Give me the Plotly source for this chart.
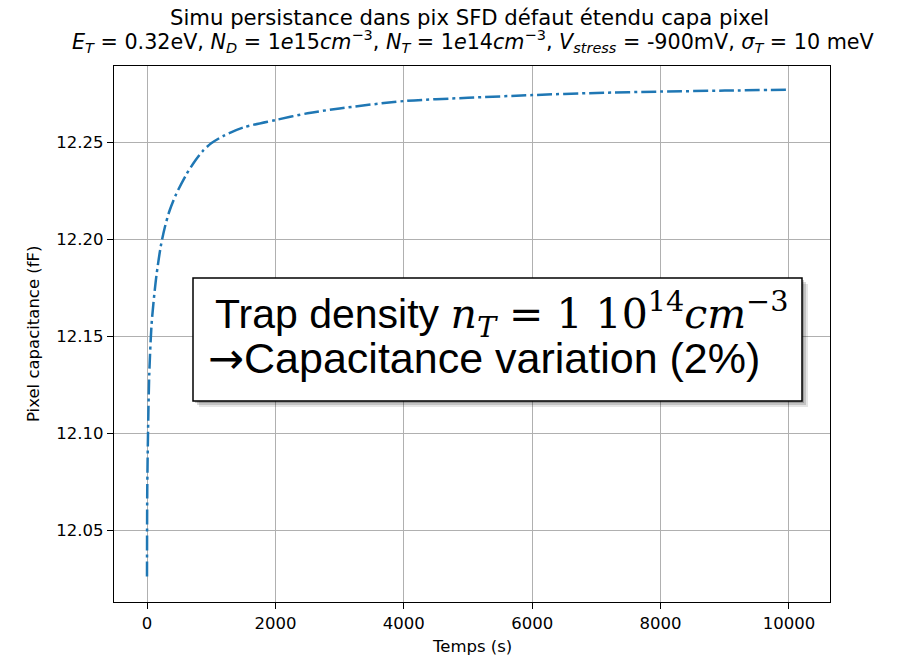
import plotly.graph_objects as go

# ---- data ----
temps_s = [0, 4, 16, 35, 69, 100, 146, 215, 280, 354, 450, 614, 750, 868, 1000, 1200,
           1500, 2000, 2500, 3000, 4000, 5000, 6000, 7000, 8000, 9000, 10000]
capa_fF = [12.026, 12.07, 12.10, 12.13, 12.155, 12.167, 12.181, 12.1965, 12.2065, 12.2150,
           12.2230, 12.2335, 12.2405, 12.2455, 12.2495, 12.2535, 12.2577, 12.2615, 12.265,
           12.2675, 12.2713, 12.273, 12.2744, 12.2755, 12.2762, 12.2767, 12.2772]

x_ticks = [0, 2000, 4000, 6000, 8000, 10000]
y_ticks = [12.05, 12.10, 12.15, 12.20, 12.25]

title_line1 = "Simu persistance dans pix SFD défaut étendu capa pixel"
title_line2 = ("<i>E</i><sub><i>T</i></sub> = 0.32eV, <i>N</i><sub><i>D</i></sub> = 1<i>e</i>15<i>cm</i><sup>−3</sup>, "
               "<i>N</i><sub><i>T</i></sub> = 1<i>e</i>14<i>cm</i><sup>−3</sup>, "
               "<i>V</i><sub><i>stress</i></sub> = -900mV, <i>σ</i><sub><i>T</i></sub> = 10 meV")
x_label = "Temps (s)"
y_label = "Pixel capacitance (fF)"
box_line1 = ("Trap density <span style=\"font-family:'DejaVu Serif'\"><i>n</i><sub><i>T</i></sub>"
             " = 1 10<sup>14</sup><i>cm</i><sup>−3</sup></span>")
box_line2 = "<span style=\"font-family:'DejaVu Sans'\">→</span>Capacitance variation (2%)"

# ---- layout geometry (pixels) ----
W, H = 906, 655
L, R, T, B = 114, 830, 66, 602


def px(x):
    return (x - L) / (R - L)


def py(y):
    return (B - y) / (B - T)


FONT = "DejaVu Sans"
TICK_SIZE = 16.5

fig = go.Figure()
fig.add_trace(go.Scatter(
    x=temps_s, y=capa_fF, mode="lines",
    line=dict(color="#1f77b4", width=2.5, dash="15px,4px,3px,4px", shape="spline", smoothing=0.8),
    showlegend=False, hoverinfo="skip",
))

axis_common = dict(
    showline=True, linecolor="black", linewidth=1.3, mirror=True,
    ticks="outside", ticklen=6, tickwidth=1.3, tickcolor="black",
    showgrid=True, gridcolor="#b0b0b0", gridwidth=1.3,
    zeroline=False,
    tickfont=dict(family=FONT, size=TICK_SIZE, color="black"),
)

fig.update_xaxes(range=[-514, 10639], tickvals=x_ticks, tickformat="d", **axis_common)
fig.update_yaxes(range=[12.0129, 12.2894], tickvals=y_ticks, tickformat=".2f", **axis_common)

annotations = [
    dict(text=title_line1, x=px(469), y=py(17.5), xref="paper", yref="paper",
         xanchor="center", yanchor="middle", showarrow=False,
         font=dict(family=FONT, size=21.2, color="black")),
    dict(text=title_line2, x=px(472.5), y=py(41), xref="paper", yref="paper",
         xanchor="center", yanchor="middle", showarrow=False,
         font=dict(family=FONT, size=20.7, color="black")),
    dict(text=x_label, x=px(472), y=py(646), xref="paper", yref="paper",
         xanchor="center", yanchor="middle", showarrow=False,
         font=dict(family=FONT, size=TICK_SIZE, color="black")),
    dict(text=y_label, x=px(33), y=py(334), xref="paper", yref="paper",
         xanchor="center", yanchor="middle", showarrow=False, textangle=-90,
         font=dict(family=FONT, size=TICK_SIZE, color="black")),
    dict(text=box_line1, x=px(213), y=py(314), xref="paper", yref="paper",
         xanchor="left", yanchor="middle", showarrow=False,
         font=dict(family="Liberation Sans", size=41, color="black")),
    dict(text=box_line2, x=px(206), y=py(358), xref="paper", yref="paper",
         xanchor="left", yanchor="middle", showarrow=False,
         font=dict(family="Liberation Sans", size=43, color="black")),
]

shapes = []
# soft shadow
for off, op in [(6, 0.10), (4, 0.15), (2, 0.20)]:
    shapes.append(dict(type="rect", xref="paper", yref="paper",
                       x0=px(193 + off), x1=px(802 + off), y0=py(401 + off), y1=py(278 + off),
                       fillcolor=f"rgba(0,0,0,{op})", line=dict(width=0), layer="above"))
shapes.append(dict(type="rect", xref="paper", yref="paper",
                   x0=px(193), x1=px(802), y0=py(401), y1=py(278),
                   fillcolor="white", line=dict(color="black", width=1.5), layer="above"))

fig.update_layout(
    width=W, height=H,
    margin=dict(l=L, r=W - R, t=T, b=H - B),
    paper_bgcolor="white", plot_bgcolor="white",
    annotations=annotations, shapes=shapes,
    font=dict(family=FONT, color="black"),
)

fig.write_html("out.html")
